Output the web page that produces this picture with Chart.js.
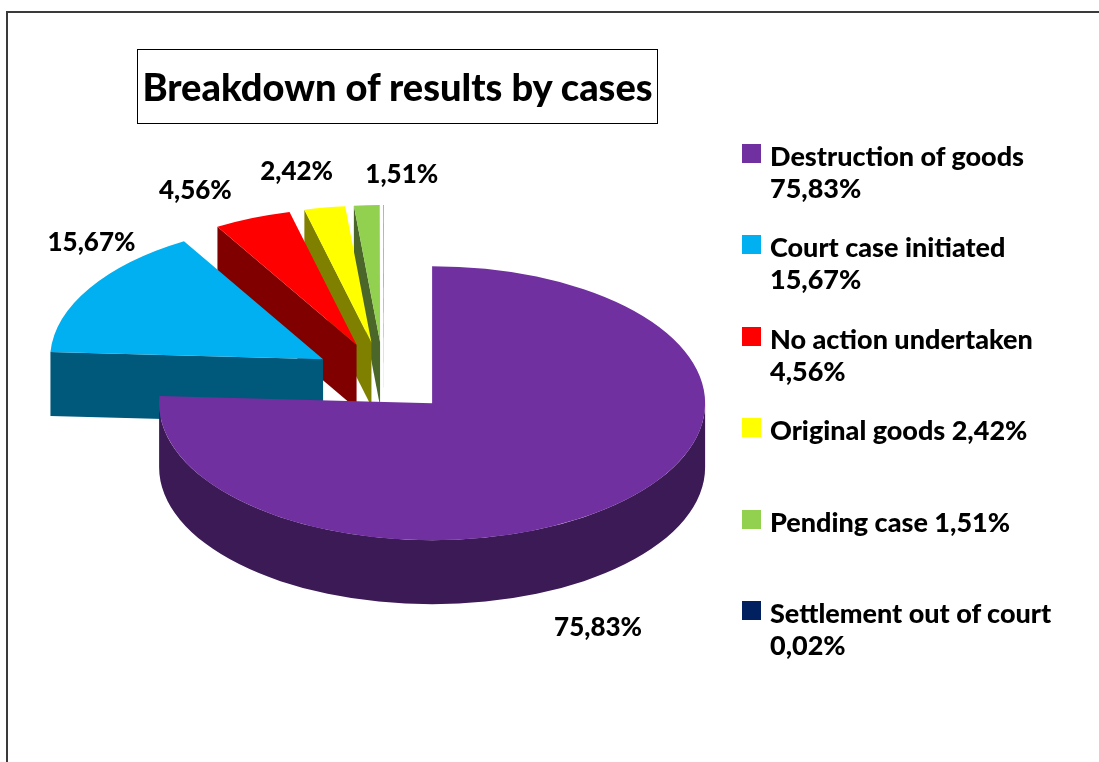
<!DOCTYPE html>
<html>
<head>
<meta charset="utf-8">
<script src="https://cdn.jsdelivr.net/npm/chart.js@4.4.0/dist/chart.umd.min.js"></script>
<style>
  html, body { margin: 0; padding: 0; background: #fff; overflow: hidden; }
  body { width: 1099px; height: 762px; position: relative; font-family: Lato, 'Open Sans', sans-serif; font-weight: 900; color: #000; }
  #frame { position: absolute; left: 6px; top: 11px; width: 1093px; height: 751px; border-left: 2px solid #3a3a3a; border-top: 2px solid #3a3a3a; }
  #chart { position: absolute; left: 0; top: 0; }
  #title { position: absolute; left: 137px; top: 49px; width: 521px; height: 75px; border: 1px solid #000; box-sizing: border-box;
           display: flex; align-items: center; justify-content: center; font-size: 38px; white-space: nowrap; padding-bottom: 2px; }
  #legend { position: absolute; left: 742px; top: 140px; }
  .item { position: absolute; left: 0; width: 335px; }
  .sw { position: absolute; left: 0; top: 4px; width: 19px; height: 19px; }
  .txt { margin-left: 28px; font-size: 27px; line-height: 32px; }
</style>
</head>
<body>
<div id="frame"></div>
<canvas id="chart" width="1099" height="762"></canvas>
<div id="title">Breakdown of results by cases</div>
<div id="legend"></div>
<script>
const categories = ['Destruction of goods', 'Court case initiated', 'No action undertaken', 'Original goods', 'Pending case', 'Settlement out of court'];
const shares = [75.83, 15.67, 4.56, 2.42, 1.51, 0.02];

const topColors = ['#7030A0', '#00B0F0', '#FF0000', '#FFFF00', '#92D050', '#002060'];
const sideColors = ['#3C1A55', '#00587A', '#800000', '#808000', '#4A6629', '#001030'];

// fake 3d look
const TILT = 0.502;     // ellipse height / width
const DEPTH = 64;       // thickness of the pie in px
const EXPLODE = 70.6;   // every slice pulled out by this much
// fine tuning of where each % label sits, relative to its slice edge
const labelShift = [[-22, 61], [2, -46], [-57, -27], [-28, -36], [35, -31], [0, 0]];

const fmt = v => v.toFixed(2).replace('.', ',') + '%';

const pie3d = {
    id: 'pie3d',
    beforeDatasetsDraw(chart) {
        const ctx = chart.ctx;
        const arcs = chart.getDatasetMeta(0).data;
        const geo = arcs.map(a => {
            const p = a.getProps(['x', 'y', 'startAngle', 'endAngle', 'outerRadius'], true);
            const mid = (p.startAngle + p.endAngle) / 2;
            return { ...p, mid, cx: p.x + Math.cos(mid) * EXPLODE, cy: p.y + Math.sin(mid) * EXPLODE * TILT };
        });
        const pt = (g, a, r, dz) => [g.cx + r * Math.cos(a), g.cy + r * Math.sin(a) * TILT + dz];

        // side walls, back slices first
        for (let i = geo.length - 1; i >= 0; i--) {
            const g = geo[i];
            const r = g.outerRadius;
            ctx.fillStyle = sideColors[i];
            [[g.startAngle, Math.cos(g.startAngle) < 0], [g.endAngle, Math.cos(g.endAngle) > 0]].forEach(([a, vis]) => {
                if (!vis) return;
                const o = pt(g, a, r, 0), ob = pt(g, a, r, DEPTH);
                ctx.beginPath();
                ctx.moveTo(g.cx, g.cy);
                ctx.lineTo(o[0], o[1]);
                ctx.lineTo(ob[0], ob[1]);
                ctx.lineTo(g.cx, g.cy + DEPTH);
                ctx.closePath();
                ctx.fill();
            });
            for (let k = -1; k <= 1; k++) {
                const a0 = Math.max(g.startAngle, k * 2 * Math.PI);
                const a1 = Math.min(g.endAngle, k * 2 * Math.PI + Math.PI);
                if (a1 <= a0) continue;
                ctx.beginPath();
                ctx.ellipse(g.cx, g.cy, r, r * TILT, 0, a0, a1);
                ctx.ellipse(g.cx, g.cy + DEPTH, r, r * TILT, 0, a1, a0, true);
                ctx.closePath();
                ctx.fill();
            }
        }

        // top faces, drawn by the arc elements themselves
        arcs.forEach((a, i) => {
            const g = geo[i];
            ctx.save();
            ctx.translate(g.cx, g.cy);
            ctx.scale(1, TILT);
            ctx.translate(-g.x, -g.y);
            a.draw(ctx);
            ctx.restore();
        });

        // data labels
        ctx.save();
        ctx.font = '900 26px Lato';
        ctx.fillStyle = '#000';
        ctx.textAlign = 'center';
        ctx.textBaseline = 'middle';
        geo.forEach((g, i) => {
            if (shares[i] < 0.5) return;
            const p = pt(g, g.mid, g.outerRadius, Math.sin(g.mid) > 0 ? DEPTH : 0);
            ctx.fillText(fmt(shares[i]), p[0] + labelShift[i][0], p[1] + labelShift[i][1]);
        });
        ctx.restore();
        return false;
    }
};

new Chart(document.getElementById('chart'), {
    type: 'pie',
    data: {
        labels: categories,
        datasets: [{
            data: shares,
            backgroundColor: topColors,
            borderWidth: 0,
            radius: 273
        }]
    },
    options: {
        responsive: false,
        animation: false,
        events: [],
        layout: { padding: { left: 283, right: 615, top: 277, bottom: 284 } },
        plugins: {
            legend: { display: false },
            tooltip: { enabled: false }
        }
    },
    plugins: [pie3d]
});

const legend = document.getElementById('legend');
categories.forEach((c, i) => {
    const item = document.createElement('div');
    item.className = 'item';
    item.style.top = (i * 91.4) + 'px';
    item.innerHTML = `<span class="sw" style="background:${topColors[i]}"></span><div class="txt">${c} ${fmt(shares[i])}</div>`;
    legend.appendChild(item);
});
</script>
</body>
</html>
